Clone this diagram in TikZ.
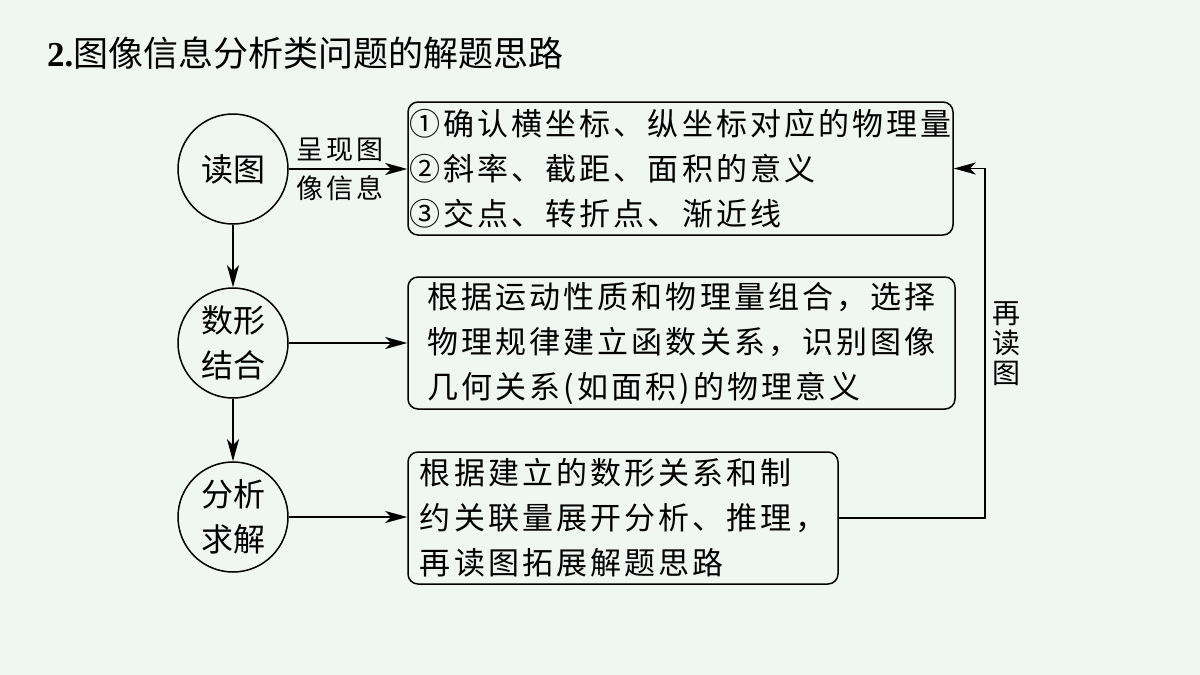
\documentclass[tikz,border=0pt]{standalone}
\usepackage{fontspec}
\setmainfont{Liberation Serif}
\newfontfamily\cjk{Noto Sans CJK SC}[LetterSpace=10]
\newfontfamily\cjkplain{Noto Sans CJK SC}
\usetikzlibrary{arrows.meta}
\definecolor{bgc}{RGB}{240,247,242}
\tikzset{
  arr/.style={line width=1.5pt, -{Stealth[length=22pt,width=12pt,inset=6pt]}},
  stage/.style={circle, draw, line width=1.5pt, minimum size=110pt, inner sep=0pt,
    align=center, font=\cjkplain\fontsize{32}{45}\selectfont},
  infobox/.style={draw, line width=1.5pt, rounded corners=10pt, align=left,
    inner sep=0pt, font=\cjk\fontsize{31}{45}\selectfont},
  lbl/.style={font=\cjk\fontsize{27}{30}\selectfont, inner sep=0pt, align=center},
}
\begin{document}
\begin{tikzpicture}[x=1pt,y=-1pt]
\fill[bgc] (0,0) rectangle (1200,675);
\useasboundingbox (0,0) rectangle (1200,675);

\node[anchor=base west, inner sep=0pt] (title) at (47,66)
  {\fontsize{35}{40}\selectfont\textbf{2.}\cjkplain 图像信息分析类问题的解题思路};

\node[stage] (c1) at (233,169) {读图};
\node[stage] (c2) at (233,343) {数形\\结合};
\node[stage] (c3) at (233,517) {分析\\求解};

\node[infobox, minimum width=545pt, minimum height=133pt] (b1) at (680.5,168.5)
  {①确认横坐标、纵坐标对应的物理量\\②斜率、截距、面积的意义\\③交点、转折点、渐近线};
\node[infobox, minimum width=547pt, minimum height=132pt] (b2) at (681.5,343)
  {根据运动性质和物理量组合，选择\\物理规律建立函数关系，识别图像\\几何关系(如面积)的物理意义};
\node[infobox, minimum width=430pt, minimum height=132pt] (b3) at (623,518)
  {根据建立的数形关系和制\\约关联量展开分析、推理，\\再读图拓展解题思路};

\draw[arr] (c1.east) -- (c1.east -| b1.west);
\node[lbl] (l1) at (340,150) {呈现图};
\node[lbl] (l2) at (340,188) {像信息};

\draw[arr] (c1.south) -- (c2.north);
\draw[arr] (c2.south) -- (c3.north);
\draw[arr] (c2.east) -- (c2.east -| b2.west);
\draw[arr] (c3.east) -- (c3.east -| b3.west);

\coordinate (fb) at (985,518);
\draw[arr] (b3.east) -- (b3.east -| fb) |- (b1.east);
\node[font=\cjkplain\fontsize{28}{30}\selectfont, align=center, inner sep=0pt] (l3) at (1006,344) {再\\读\\图};
\end{tikzpicture}
\end{document}
